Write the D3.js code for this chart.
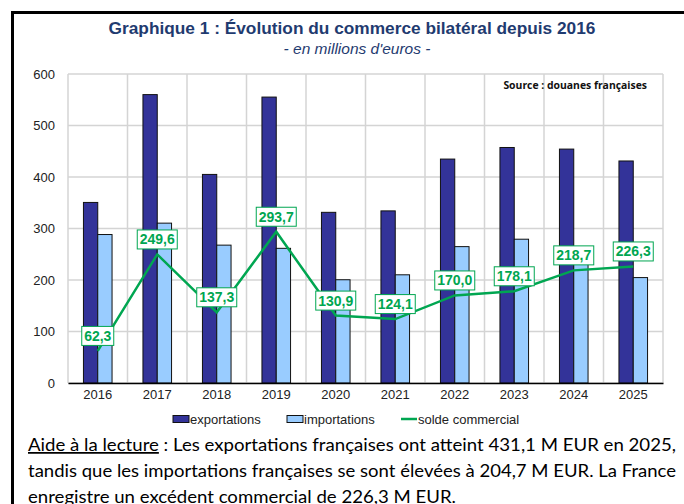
<!DOCTYPE html>
<html>
<head>
<meta charset="utf-8">
<script src="https://cdn.jsdelivr.net/npm/d3@7"></script>
<style>
  body { margin: 0; background: #fff; }
  svg { display: block; }
</style>
</head>
<body>
<svg id="chart" width="684" height="504"></svg>
<script>
// data
var years = ['2016', '2017', '2018', '2019', '2020', '2021', '2022', '2023', '2024', '2025'];
var exportations = [350.6, 560, 405, 555.2, 331.4, 334.2, 434.8, 457.3, 454.2, 431.1];
var importations = [288.3, 310.4, 267.7, 261.5, 200.5, 210.1, 264.8, 279.2, 235.5, 204.7];
var solde = [62.3, 249.6, 137.3, 293.7, 130.9, 124.1, 170.0, 178.1, 218.7, 226.3];
var yTicks = [0, 100, 200, 300, 400, 500, 600];

var svg = d3.select('#chart');
var m = { left: 68, right: 663, top: 74, bottom: 383 };

// frame (left + top only visible)
svg.append('path')
	.attr('d', 'M12.5,520 L12.5,12.5 L700,12.5')
	.attr('fill', 'none')
	.attr('stroke', '#000')
	.attr('stroke-width', 3);

svg.append('text')
	.attr('x', 352).attr('y', 34)
	.attr('text-anchor', 'middle')
	.attr('font-family', 'Liberation Sans, Arial, sans-serif')
	.attr('font-weight', 'bold')
	.attr('font-size', '17.3px')
	.attr('fill', '#1f3b70')
	.text('Graphique 1 : Évolution du commerce bilatéral depuis 2016');

svg.append('text')
	.attr('x', 357).attr('y', 54)
	.attr('text-anchor', 'middle')
	.attr('font-family', 'Liberation Sans, Arial, sans-serif')
	.attr('font-style', 'italic')
	.attr('font-size', '15.5px')
	.attr('fill', '#1f3b70')
	.text("- en millions d'euros -");

var x = d3.scaleBand().domain(years).range([m.left, m.right]);
var y = d3.scaleLinear().domain([0, 600]).range([m.bottom, m.top]);
var barW = 14.3;

// grid
svg.selectAll('.hgrid')
	.data(yTicks)
	.enter()
	.append('line')
	.attr('x1', m.left).attr('x2', m.right)
	.attr('y1', function(d) { return y(d); })
	.attr('y2', function(d) { return y(d); })
	.attr('stroke', '#d4d4d4')
	.attr('stroke-width', 1.5);

svg.selectAll('.vgrid')
	.data(years.concat(['end']))
	.enter()
	.append('line')
	.attr('x1', function(d, i) { return m.left + i * x.bandwidth(); })
	.attr('x2', function(d, i) { return m.left + i * x.bandwidth(); })
	.attr('y1', m.top).attr('y2', m.bottom)
	.attr('stroke', '#d4d4d4')
	.attr('stroke-width', 1.5);

// bars
svg.selectAll('.exp')
	.data(exportations)
	.enter()
	.append('rect')
	.attr('x', function(d, i) { return x(years[i]) + x.bandwidth() / 2 - barW; })
	.attr('y', function(d) { return y(d); })
	.attr('width', barW)
	.attr('height', function(d) { return y(0) - y(d); })
	.attr('fill', '#333399')
	.attr('stroke', '#111')
	.attr('stroke-width', 1);

svg.selectAll('.imp')
	.data(importations)
	.enter()
	.append('rect')
	.attr('x', function(d, i) { return x(years[i]) + x.bandwidth() / 2; })
	.attr('y', function(d) { return y(d); })
	.attr('width', barW)
	.attr('height', function(d) { return y(0) - y(d); })
	.attr('fill', '#99ccff')
	.attr('stroke', '#111')
	.attr('stroke-width', 1);

// axes
var yAxis = svg.append('g')
	.attr('transform', 'translate(' + m.left + ',0)')
	.call(d3.axisLeft(y).tickValues(yTicks).tickSize(0).tickPadding(13));
yAxis.select('.domain').remove();
yAxis.selectAll('text')
	.attr('font-family', 'Liberation Sans, Arial, sans-serif')
	.attr('font-size', '13px')
	.attr('fill', '#222');

var xAxis = svg.append('g')
	.attr('transform', 'translate(0,' + m.bottom + ')')
	.call(d3.axisBottom(x).tickSize(0).tickPadding(7));
xAxis.select('.domain').attr('stroke', '#000').attr('stroke-width', 1.5);
xAxis.selectAll('text')
	.attr('font-family', 'Liberation Sans, Arial, sans-serif')
	.attr('font-size', '13px')
	.attr('fill', '#222');

// solde line
var line = d3.line()
	.x(function(d, i) { return x(years[i]) + x.bandwidth() / 2; })
	.y(function(d) { return y(d); });

svg.append('path')
	.datum(solde)
	.attr('d', line)
	.attr('fill', 'none')
	.attr('stroke', '#00a651')
	.attr('stroke-width', 2.5);

// labels
var fmt = function(v) { return d3.format('.1f')(v).replace('.', ','); };
var lab = svg.selectAll('.lab')
	.data(solde)
	.enter()
	.append('g')
	.attr('transform', function(d, i) {
		return 'translate(' + (x(years[i]) + x.bandwidth() / 2) + ',' + (y(d) - 15) + ')';
	});
lab.append('rect')
	.attr('x', function(d) { return fmt(d).length > 4 ? -20 : -16; })
	.attr('y', -9.5)
	.attr('width', function(d) { return fmt(d).length > 4 ? 40 : 32; })
	.attr('height', 19)
	.attr('fill', '#fff')
	.attr('stroke', '#00a651')
	.attr('stroke-width', 1);
lab.append('text')
	.attr('text-anchor', 'middle')
	.attr('y', 5)
	.attr('font-family', 'Liberation Sans, Arial, sans-serif')
	.attr('font-weight', 'bold')
	.attr('font-size', '14px')
	.attr('fill', '#00a651')
	.text(function(d) { return fmt(d); });

svg.append('text')
	.attr('x', 647).attr('y', 89)
	.attr('text-anchor', 'end')
	.attr('font-family', 'Open Sans, sans-serif')
	.attr('font-weight', 'bold')
	.attr('font-size', '10.4px')
	.attr('fill', '#111')
	.text('Source : douanes françaises');

// legend
var legend = [
	{ name: 'exportations', color: '#333399', x: 173, type: 'rect' },
	{ name: 'importations', color: '#99ccff', x: 287, type: 'rect' },
	{ name: 'solde commercial', color: '#00a651', x: 401, type: 'line' }
];
var lg = svg.selectAll('.lg')
	.data(legend)
	.enter()
	.append('g')
	.attr('transform', function(d) { return 'translate(' + d.x + ',419)'; });
lg.filter(function(d) { return d.type == 'rect'; })
	.append('rect')
	.attr('x', 0).attr('y', -3.5)
	.attr('width', 16).attr('height', 7)
	.attr('fill', function(d) { return d.color; })
	.attr('stroke', '#111')
	.attr('stroke-width', 1);
lg.filter(function(d) { return d.type == 'line'; })
	.append('line')
	.attr('x1', 0).attr('x2', 16)
	.attr('stroke', function(d) { return d.color; })
	.attr('stroke-width', 2.5);
lg.append('text')
	.attr('x', 17).attr('y', 5)
	.attr('font-family', 'Liberation Sans, Arial, sans-serif')
	.attr('font-size', '13px')
	.attr('fill', '#222')
	.text(function(d) { return d.name; });

// reading help
var note = svg.append('g')
	.attr('font-family', 'Lato, sans-serif')
	.attr('font-size', '17.5px')
	.attr('fill', '#000');
var t1 = note.append('text').attr('x', 28).attr('y', 451).attr('textLength', 648).attr('lengthAdjust', 'spacingAndGlyphs');
t1.append('tspan').attr('text-decoration', 'underline').text('Aide à la lecture');
t1.append('tspan').text(' : Les exportations françaises ont atteint 431,1 M EUR en 2025,');
note.append('text').attr('x', 28).attr('y', 477).attr('textLength', 648).attr('lengthAdjust', 'spacingAndGlyphs')
	.text('tandis que les importations françaises se sont élevées à 204,7 M EUR. La France');
note.append('text').attr('x', 28).attr('y', 503).attr('textLength', 428).attr('lengthAdjust', 'spacingAndGlyphs')
	.text('enregistre un excédent commercial de 226,3 M EUR.');
</script>
</body>
</html>
